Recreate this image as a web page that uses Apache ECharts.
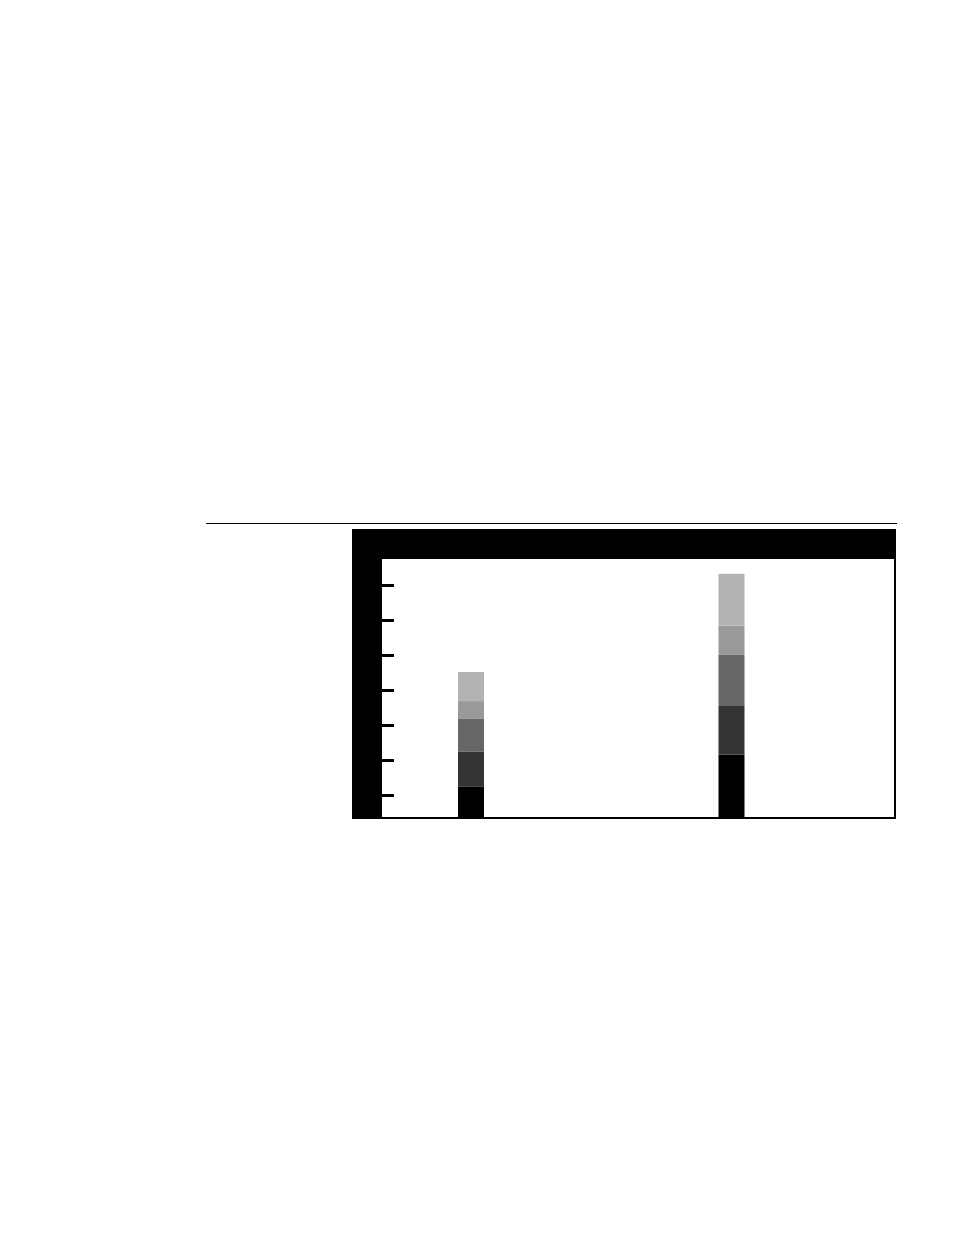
<!DOCTYPE html>
<html>
<head>
<meta charset="utf-8">
<title>chart</title>
<script src="https://cdn.jsdelivr.net/npm/echarts@6/dist/echarts.min.js"></script>
<style>
    html, body { margin: 0; padding: 0; background: #fff; }
    #chart1 { width: 954px; height: 1235px; }
</style>
</head>
<body>
<div id="chart1"></div>
<script>
// 数据
var categories = ['Group 1', 'Group 2'];
var seriesNames = ['S1', 'S2', 'S3', 'S4', 'S5'];
var s1 = [8.9, 18.1];
var s2 = [10.0, 13.9];
var s3 = [9.4, 14.6];
var s4 = [5.1, 8.3];
var s5 = [8.3, 14.9];
var colors = ['#000000', '#333333', '#666666', '#999999', '#b3b3b3'];
// tick axis values (labels hidden in the original)
var tickMin = 0;
var tickMax = 60;
var tickStep = 10;

// 1-初始化
var myChart1 = echarts.init(document.getElementById('chart1'));

var allData = [s1, s2, s3, s4, s5];
var series = [];
for (var i = 0; i < allData.length; i++) {
    series.push({
        name: seriesNames[i],
        type: 'bar',
        stack: 'total',
        xAxisIndex: 0,
        yAxisIndex: 0,
        barWidth: 26,
        itemStyle: { color: colors[i] },
        data: allData[i]
    });
}

// 2-准备配置
var option = {
    animation: false,
    backgroundColor: '#ffffff',
    grid: [
        // bars
        { left: 340.75, right: 92.25, top: 559, bottom: 417 },
        // tick axis
        { left: 382, right: 60, top: 585.3, bottom: 439.3 }
    ],
    xAxis: [
        { type: 'category', gridIndex: 0, data: categories, show: false },
        { type: 'value', gridIndex: 1, min: 0, max: 1, show: false }
    ],
    yAxis: [
        { type: 'value', gridIndex: 0, min: 0, max: 74, show: false },
        {
            type: 'value',
            gridIndex: 1,
            min: tickMin,
            max: tickMax,
            interval: tickStep,
            axisLine: { show: false },
            axisLabel: { show: false },
            splitLine: { show: false },
            axisTick: {
                show: true,
                inside: true,
                length: 12,
                lineStyle: { color: '#000', width: 3 }
            }
        }
    ],
    // frame
    graphic: [
        { type: 'line', shape: { x1: 206, y1: 523.5, x2: 897, y2: 523.5 }, style: { stroke: '#000', lineWidth: 1.2 } },
        { type: 'rect', shape: { x: 352, y: 529, width: 544, height: 30 }, style: { fill: '#000' } },
        { type: 'rect', shape: { x: 352, y: 529, width: 30, height: 290 }, style: { fill: '#000' } },
        { type: 'rect', shape: { x: 894, y: 529, width: 2, height: 290 }, style: { fill: '#000' } },
        { type: 'rect', shape: { x: 352, y: 817, width: 544, height: 2 }, style: { fill: '#000' } }
    ],
    series: series
};

// 3-生成图表
myChart1.setOption(option);
</script>
</body>
</html>
